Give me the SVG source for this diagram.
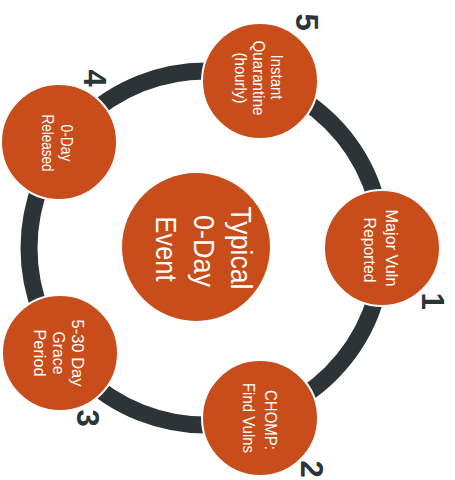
<svg xmlns="http://www.w3.org/2000/svg" width="455" height="480" viewBox="0 0 455 480">
  <style>
    .ring { fill: none; stroke: #2C3437; stroke-width: 17; }
    .node { fill: #C94C1B; stroke: #FFFFFF; stroke-width: 2; }
    .hub { fill: #C94C1B; }
    .lbl { fill: #FFFFFF; font-family: "Liberation Sans", "Noto Sans", sans-serif; font-size: 17px; text-anchor: middle; }
    .hub-lbl { fill: #FFFFFF; font-family: "Liberation Sans", "Noto Sans", sans-serif; font-size: 30px; text-anchor: middle; }
    .num { fill: #2C3437; font-family: "Liberation Sans", "Noto Sans", sans-serif; font-size: 31px; font-weight: 700; text-anchor: middle; }
  </style>
  <rect width="455" height="480" fill="#FFFFFF"/>

  <!-- cycle ring linking the five stages -->
  <g id="connectors">
    <circle class="ring" cx="206" cy="248" r="177"/>
  </g>

  <!-- hub -->
  <g id="hub">
    <circle class="hub" cx="196" cy="247" r="74"/>
    <g transform="translate(196,247) rotate(90)">
      <text class="hub-lbl" x="1" y="-35" textLength="83" lengthAdjust="spacingAndGlyphs">Typical</text>
      <text class="hub-lbl" x="4" y="2" textLength="72" lengthAdjust="spacingAndGlyphs">0-Day</text>
      <text class="hub-lbl" x="2" y="40" textLength="65" lengthAdjust="spacingAndGlyphs">Event</text>
    </g>
  </g>

  <!-- stage 1 -->
  <g id="stage-1">
    <circle class="node" cx="382" cy="248" r="58"/>
    <g transform="translate(382,248) rotate(90)">
      <text class="lbl" x="0" y="-4" textLength="77" lengthAdjust="spacingAndGlyphs">Major Vuln</text>
      <text class="lbl" x="2" y="18" textLength="65" lengthAdjust="spacingAndGlyphs">Reported</text>
    </g>
    <text class="num" transform="translate(433,301) rotate(90)" y="11">1</text>
  </g>

  <!-- stage 2 -->
  <g id="stage-2">
    <circle class="node" cx="260" cy="418" r="58"/>
    <g transform="translate(260,418) rotate(90)">
      <text class="lbl" x="2" y="-5" textLength="60" lengthAdjust="spacingAndGlyphs">CHOMP:</text>
      <text class="lbl" x="0" y="17" textLength="70" lengthAdjust="spacingAndGlyphs">Find Vulns</text>
    </g>
    <text class="num" transform="translate(312,469) rotate(90)" y="11">2</text>
  </g>

  <!-- stage 3 -->
  <g id="stage-3">
    <circle class="node" cx="60" cy="353" r="58"/>
    <g transform="translate(60,353) rotate(90)">
      <text class="lbl" x="0" y="-12" textLength="67" lengthAdjust="spacingAndGlyphs">5-30 Day</text>
      <text class="lbl" x="0" y="7" textLength="43" lengthAdjust="spacingAndGlyphs">Grace</text>
      <text class="lbl" x="0" y="26" textLength="47" lengthAdjust="spacingAndGlyphs">Period</text>
    </g>
    <text class="num" transform="translate(88,418) rotate(90)" y="11">3</text>
  </g>

  <!-- stage 4 -->
  <g id="stage-4">
    <circle class="node" cx="59" cy="142" r="58"/>
    <g transform="translate(59,142) rotate(90)">
      <text class="lbl" x="1" y="-2" textLength="37" lengthAdjust="spacingAndGlyphs">0-Day</text>
      <text class="lbl" x="1" y="17" textLength="57" lengthAdjust="spacingAndGlyphs">Released</text>
    </g>
    <text class="num" transform="translate(95,78) rotate(90)" y="11">4</text>
  </g>

  <!-- stage 5 -->
  <g id="stage-5">
    <circle class="node" cx="260" cy="81" r="58"/>
    <g transform="translate(260,81) rotate(90)">
      <text class="lbl" x="-4" y="-11" textLength="45" lengthAdjust="spacingAndGlyphs">Instant</text>
      <text class="lbl" x="-3" y="7" textLength="75" lengthAdjust="spacingAndGlyphs">Quarantine</text>
      <text class="lbl" x="-3" y="25" textLength="51" lengthAdjust="spacingAndGlyphs">(hourly)</text>
    </g>
    <text class="num" transform="translate(307,22) rotate(90)" y="11">5</text>
  </g>
</svg>
